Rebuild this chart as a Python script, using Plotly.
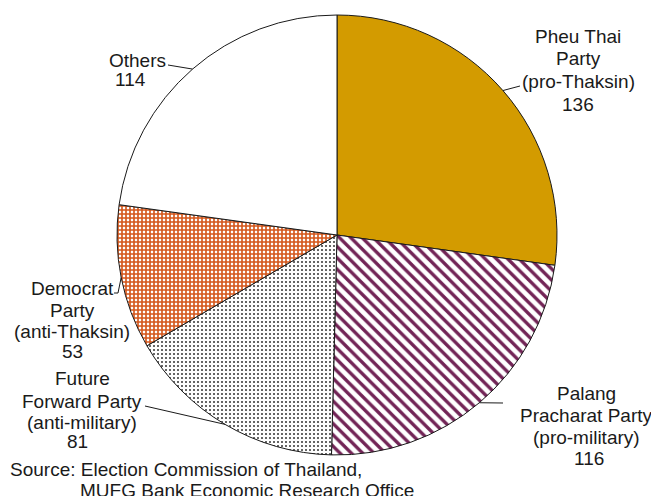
import math
import plotly.graph_objects as go

# Thai general election 2019: lower-house seats by party
parties = ["Pheu Thai<br>Party", "Palang<br>Pracharat Party", "Future<br>Forward Party",
           "Democrat<br>Party", "Others"]
stances = ["(pro-Thaksin)", "(pro-military)", "(anti-military)", "(anti-Thaksin)", ""]
seats = [136, 116, 81, 53, 114]

base_colors = ["#D39B00", "#FFFFFF", "#FFFFFF", "#FFFFFF", "#FFFFFF"]
fill_colors = ["#D39B00", "#722456", "#333333", "#D4561A", "#FFFFFF"]
pattern_shapes = ["", "\\", ".", "+", ""]
pattern_sizes = [6, 8, 4, 4, 6]
pattern_solidity = [0.3, 0.42, 0.2, 0.65, 0.3]

W, H = 651, 496
FONT = "Liberation Sans, Arial, sans-serif"
FS = 19

# pie box in pixels
left, right, top, bottom = 117, 557, 15, 455
cx, cy = (left + right) / 2, (top + bottom) / 2
R = (right - left) / 2

fig = go.Figure(go.Pie(
    values=seats,
    labels=[p.replace("<br>", " ") for p in parties],
    sort=False,
    direction="clockwise",
    rotation=0,
    textinfo="none",
    hoverinfo="label+value",
    showlegend=False,
    domain=dict(x=[left / W, right / W], y=[1 - bottom / H, 1 - top / H]),
    marker=dict(
        colors=base_colors,
        line=dict(color="#1a1a1a", width=1),
        pattern=dict(
            shape=pattern_shapes,
            fgcolor=fill_colors,
            bgcolor=base_colors,
            fgopacity=1,
            size=pattern_sizes,
            solidity=pattern_solidity,
            fillmode="overlay",
        ),
    ),
))

# label layout: text centre x and the y of each line (pixels), plus leader elbow points
label_layout = [
    dict(x=[578, 578, 578, 578], y=[37, 59, 82, 105], leader=[(520, 86)]),
    dict(x=[586, 586, 586, 589], y=[393, 415, 437, 458], leader=[(503, 403)]),
    dict(x=[82, 82, 82, 77], y=[378, 401, 422, 441], leader=[(145, 406)]),
    dict(x=[72, 72, 72, 72], y=[288, 310, 331, 351], leader=[(118, 293), (114, 293)]),
    dict(x=[137, 130], y=[60, 79], leader=[(168, 65)]),
]

def px(x):
    return x / W

def py(y):
    return 1 - y / H

total = sum(seats)
annotations = []
shapes = []
cum = 0
for name, stance, v, lay in zip(parties, stances, seats, label_layout):
    mid = (cum + v / 2) / total * 2 * math.pi
    cum += v
    ex, ey = cx + R * math.sin(mid), cy - R * math.cos(mid)
    pts = [(ex, ey)] + lay["leader"]
    path = "M " + " L ".join(f"{px(a):.5f},{py(b):.5f}" for a, b in pts)
    shapes.append(dict(type="path", xref="paper", yref="paper", path=path,
                       line=dict(color="#1a1a1a", width=1)))
    lines = name.split("<br>") + ([stance] if stance else []) + [str(v)]
    for t, lx, ly in zip(lines, lay["x"], lay["y"]):
        annotations.append(dict(
            text=t, x=px(lx), y=py(ly), xref="paper", yref="paper",
            xanchor="center", yanchor="middle", showarrow=False,
            font=dict(family=FONT, size=FS, color="#1a1a1a"),
        ))

# source note
for t, lx, ly in [("Source: Election Commission of Thailand,", 8, 469),
                  ("MUFG Bank Economic Research Office", 78, 490)]:
    annotations.append(dict(
        text=t, x=px(lx), y=py(ly), xref="paper", yref="paper",
        xanchor="left", yanchor="middle", showarrow=False,
        font=dict(family=FONT, size=FS, color="#1a1a1a"),
    ))

fig.update_layout(
    width=W, height=H,
    margin=dict(l=0, r=0, t=0, b=0),
    paper_bgcolor="white", plot_bgcolor="white",
    annotations=annotations,
    shapes=shapes,
)

fig.write_html("out.html")
